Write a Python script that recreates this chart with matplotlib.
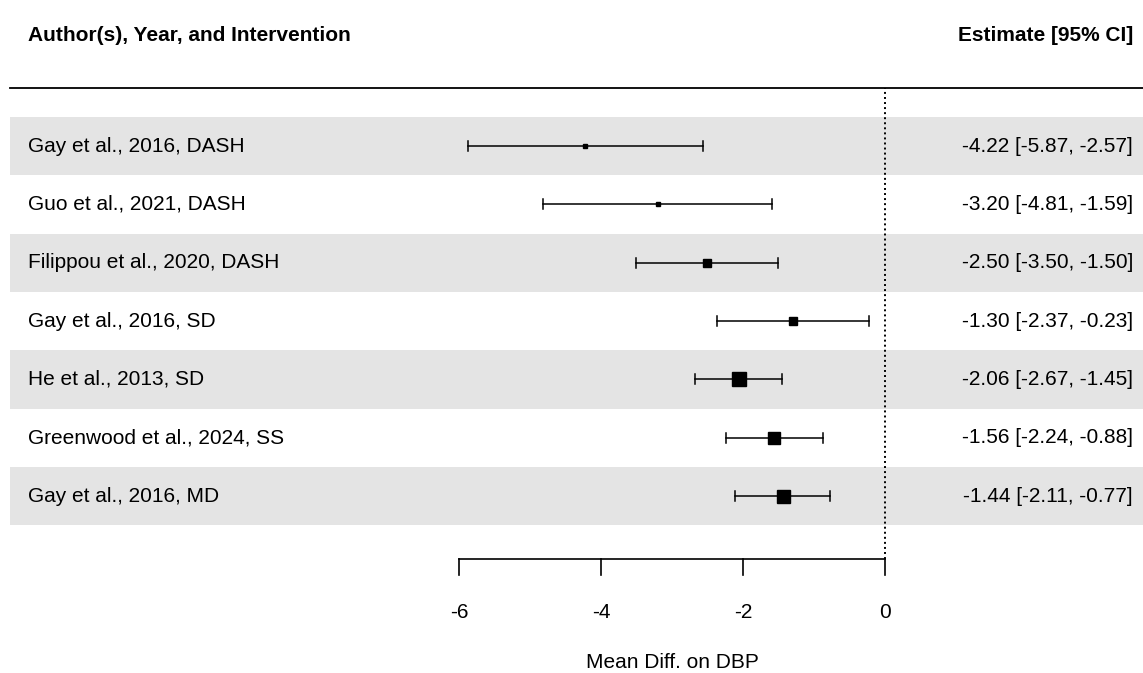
import matplotlib.pyplot as plt

# donnees du forest plot (de haut en bas)
etudes = ['Gay et al., 2016, DASH', 'Guo et al., 2021, DASH', 'Filippou et al., 2020, DASH',
          'Gay et al., 2016, SD', 'He et al., 2013, SD', 'Greenwood et al., 2024, SS',
          'Gay et al., 2016, MD']
estimations = [-4.22, -3.20, -2.50, -1.30, -2.06, -1.56, -1.44]
ic_bas = [-5.87, -4.81, -3.50, -2.37, -2.67, -2.24, -2.11]
ic_haut = [-2.57, -1.59, -1.50, -0.23, -1.45, -0.88, -0.77]
poids = [4.5, 5, 8, 8, 14, 12.5, 13]  # taille des carres (px)
graduations = [-6, -4, -2, 0]

plt.rcParams['font.family'] = ['Liberation Sans', 'DejaVu Sans']
taille = 15

fig = plt.figure(figsize=(11.43, 6.73), dpi=100)
ax = fig.add_axes([0, 0, 1, 1])
ax.set_xlim(-885 / 71, (1143 - 885) / 71)
ax.set_ylim(1 - 177 / 58.33, 1 + 496 / 58.33)
ax.axis('off')

x_gauche = (10 - 885) / 71
x_texte = (28 - 885) / 71
x_droite = (1133 - 885) / 71
n = len(etudes)

# bandes grises une ligne sur deux
for i in range(n):
    y = n - i
    if i % 2 == 0:
        ax.axhspan(y - 0.5, y + 0.5, xmin=10 / 1143, xmax=1, color='#e4e4e4', lw=0, zorder=0)

# ligne du haut et ligne pointillee a zero
ax.plot([x_gauche, ax.get_xlim()[1]], [8, 8], color='black', lw=1.3)
ax.plot([0, 0], [-0.08, 8], color='black', lw=1.4, ls=(0, (1, 1.6)))

for i, nom in enumerate(etudes):
    y = n - i
    ax.plot([ic_bas[i], ic_haut[i]], [y, y], color='black', lw=1.1, zorder=3)
    for xc in (ic_bas[i], ic_haut[i]):
        ax.plot([xc, xc], [y - 0.085, y + 0.085], color='black', lw=1.1, zorder=3)
    ax.plot(estimations[i], y, marker='s', color='black', ms=poids[i] * 0.72, zorder=4)
    ax.text(x_texte, y, nom, ha='left', va='center', fontsize=taille)
    txt = f'{estimations[i]:.2f} [{ic_bas[i]:.2f}, {ic_haut[i]:.2f}]'
    ax.text(x_droite, y, txt, ha='right', va='center', fontsize=taille)

# en-tetes
ax.text(x_texte, 8.9, 'Author(s), Year, and Intervention', ha='left', va='center',
        fontsize=taille, fontweight='bold')
ax.text(x_droite, 8.9, 'Estimate [95% CI]', ha='right', va='center',
        fontsize=taille, fontweight='bold')

# axe des x dessine a la main
y_axe = 1 - 63 / 58.33
ax.plot([graduations[0], graduations[-1]], [y_axe, y_axe], color='black', lw=1.2)
for g in graduations:
    ax.plot([g, g], [y_axe, y_axe - 16 / 58.33], color='black', lw=1.2)
    ax.text(g, 1 - 117 / 58.33, f'{g}', ha='center', va='center', fontsize=taille)
ax.text(-3, 1 - 167 / 58.33, 'Mean Diff. on DBP', ha='center', va='center', fontsize=taille)

plt.savefig('out.png', dpi=100)
